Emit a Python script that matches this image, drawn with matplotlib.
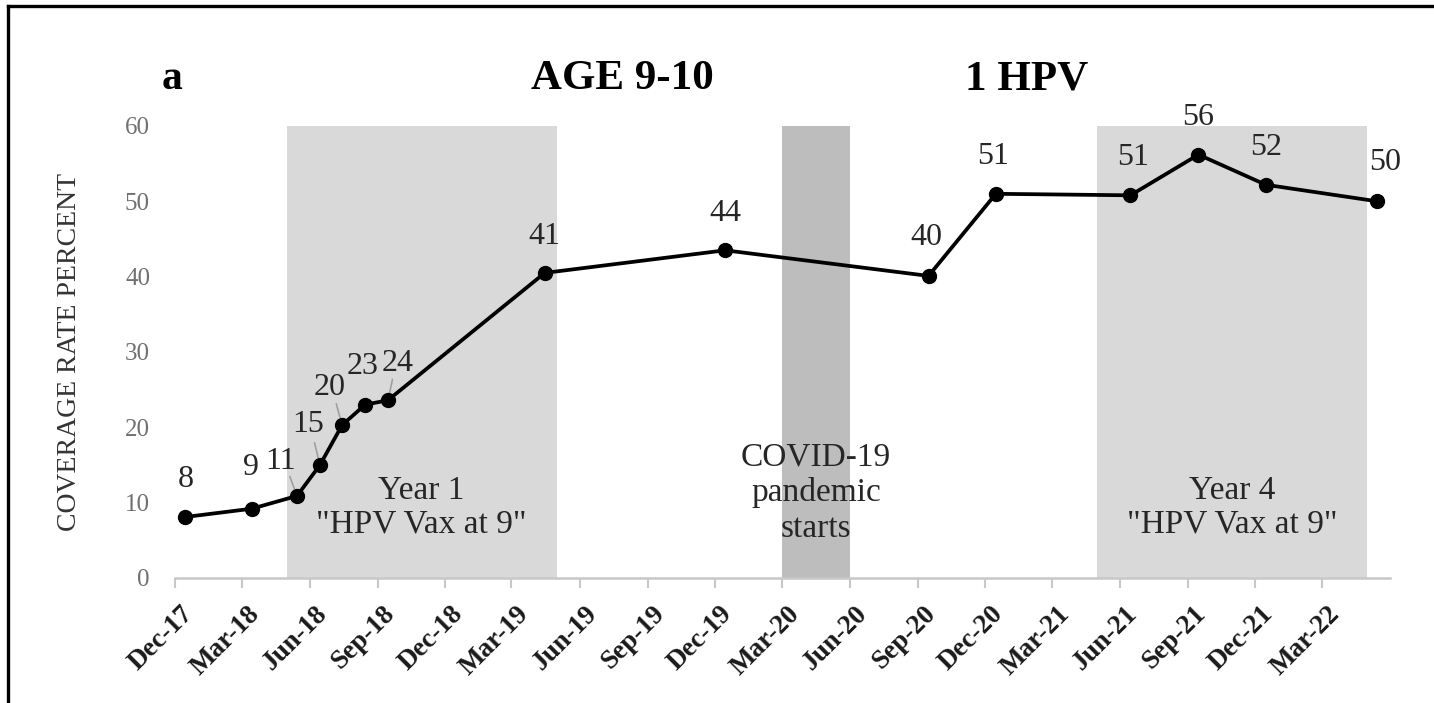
import matplotlib
matplotlib.use('Agg')
import matplotlib.pyplot as plt
import matplotlib.dates as mdates
from matplotlib.transforms import ScaledTranslation
from matplotlib.lines import Line2D
import pandas as pd

# ---- data ----
point_dates = ['2017-12-15', '2018-03-15', '2018-05-15', '2018-06-15', '2018-07-15',
               '2018-08-15', '2018-09-15', '2019-04-15', '2019-12-15', '2020-09-15',
               '2020-12-15', '2021-06-15', '2021-09-15', '2021-12-15', '2022-05-15']
coverage = [8.1, 9.2, 10.9, 15.0, 20.3, 23.0, 23.6, 40.5, 43.5, 40.1, 51.0, 50.8, 56.2, 52.2, 50.0]
point_labels = ['8', '9', '11', '15', '20', '23', '24', '41', '44', '40', '51', '51', '56', '52', '50']

tick_dates = ['2017-12-01', '2018-03-01', '2018-06-01', '2018-09-01', '2018-12-01',
              '2019-03-01', '2019-06-01', '2019-09-01', '2019-12-01', '2020-03-01',
              '2020-06-01', '2020-09-01', '2020-12-01', '2021-03-01', '2021-06-01',
              '2021-09-01', '2021-12-01', '2022-03-01']
tick_labels = ['Dec-17', 'Mar-18', 'Jun-18', 'Sep-18', 'Dec-18', 'Mar-19', 'Jun-19',
               'Sep-19', 'Dec-19', 'Mar-20', 'Jun-20', 'Sep-20', 'Dec-20', 'Mar-21',
               'Jun-21', 'Sep-21', 'Dec-21', 'Mar-22']

band_texts = ['Year 1\n"HPV Vax at 9"', 'COVID-19\npandemic\nstarts', 'Year 4\n"HPV Vax at 9"']
band_starts = ['2018-05-01', '2020-03-01', '2021-05-01']
band_ends = ['2019-05-01', '2020-06-01', '2022-05-01']

# ---- styles / layout ----
band_colors = ['#d9d9d9', '#bdbdbd', '#d9d9d9']
band_text_y = [9.4, 11.3, 9.4]
band_linespacing = [1.12, 1.22, 1.12]
# label offsets (pixels) of label centre relative to the point
label_offsets = [(0, 37), (-1, 41), (-16, 34), (-12, 40), (-13, 38), (-2, 38), (10, 37),
                 (0, 36), (0, 37), (-2, 38), (-3, 37), (3, 38), (0, 37), (0, 37), (8, 39)]
leader_idx = [2, 3, 4, 6]

SERIF = ['Liberation Serif', 'DejaVu Serif']
plt.rcParams['font.family'] = SERIF

W, H = 1434, 703
fig = plt.figure(figsize=(W / 100, H / 100), dpi=100)
ax = fig.add_axes([175 / W, 1 - 578 / H, (1390 - 175) / W, (578 - 126) / H])

xd = mdates.date2num(pd.to_datetime(point_dates))
ax.set_xlim(mdates.date2num(pd.Timestamp('2017-12-01')), mdates.date2num(pd.Timestamp('2022-06-01')))
ax.set_ylim(0, 60)

for s, e, c, t, ty, ls in zip(band_starts, band_ends, band_colors, band_texts, band_text_y, band_linespacing):
    s0 = mdates.date2num(pd.Timestamp(s))
    e0 = mdates.date2num(pd.Timestamp(e))
    ax.axvspan(s0, e0, ymin=0, ymax=1, color=c, lw=0, zorder=0)
    ax.text((s0 + e0) / 2, ty, t, ha='center', va='center', fontsize=24, color='#262626',
            linespacing=ls, zorder=2)

ax.plot(xd, coverage, color='black', lw=2.7, marker='o', markersize=10,
        markerfacecolor='black', markeredgecolor='black', zorder=4)

for i, (x, y, lab) in enumerate(zip(xd, coverage, point_labels)):
    dx, dy = label_offsets[i]
    ax.annotate(lab, (x, y), xytext=(dx * 0.72, dy * 0.72), textcoords='offset points',
                ha='center', va='center', fontsize=23, color='#262626', zorder=5)
    if i in leader_idx:
        lx0, ly0 = dx * 0.72, dy * 0.72
        ax.annotate('', (x, y), xytext=(lx0 * 0.45, ly0 * 0.45 + 3),
                    textcoords='offset points',
                    arrowprops=dict(arrowstyle='-', color='#a0a0a0', lw=1.2,
                                    shrinkA=0, shrinkB=4), zorder=3)

# axes styling
for sp in ['left', 'right', 'top']:
    ax.spines[sp].set_visible(False)
ax.spines['bottom'].set_color('#c8c8c8')
ax.spines['bottom'].set_linewidth(1.8)

ax.set_yticks(range(0, 61, 10))
ax.tick_params(axis='y', length=0, pad=18, labelsize=18, labelcolor='#707070')

ax.set_xticks(mdates.date2num(pd.to_datetime(tick_dates)))
ax.set_xticklabels(tick_labels)
ax.tick_params(axis='x', direction='out', length=7, width=1.5, color='#c8c8c8', pad=4)
for lbl in ax.get_xticklabels():
    lbl.set_rotation(45)
    lbl.set_ha('right')
    lbl.set_va('top')
    lbl.set_rotation_mode('anchor')
    lbl.set_fontsize(19.5)
    lbl.set_fontweight('bold')
    lbl.set_color('#1a1a1a')
    lbl.set_transform(lbl.get_transform() + ScaledTranslation(5 / 100, -8 / 100, fig.dpi_scale_trans))

ax.set_ylabel('COVERAGE RATE PERCENT', fontsize=20, color='#333333')
ax.yaxis.set_label_coords(-93 / (1390 - 175), 0.5)

# titles
fig.text(172 / W, 1 - 89 / H, 'a', ha='center', va='baseline', fontsize=30, fontweight='bold')
fig.text(622 / W, 1 - 89 / H, 'AGE 9-10', ha='center', va='baseline', fontsize=31, fontweight='bold')
fig.text(1027 / W, 1 - 89 / H, '1 HPV', ha='center', va='baseline', fontsize=31, fontweight='bold')

# outer frame (left and top edges)
fig.add_artist(Line2D([8 / W, 8 / W], [0, 1 - 6 / H], transform=fig.transFigure, color='black', lw=2.4))
fig.add_artist(Line2D([8 / W, 1], [1 - 6 / H, 1 - 6 / H], transform=fig.transFigure, color='black', lw=2.4))

fig.savefig('out.png', dpi=100)
